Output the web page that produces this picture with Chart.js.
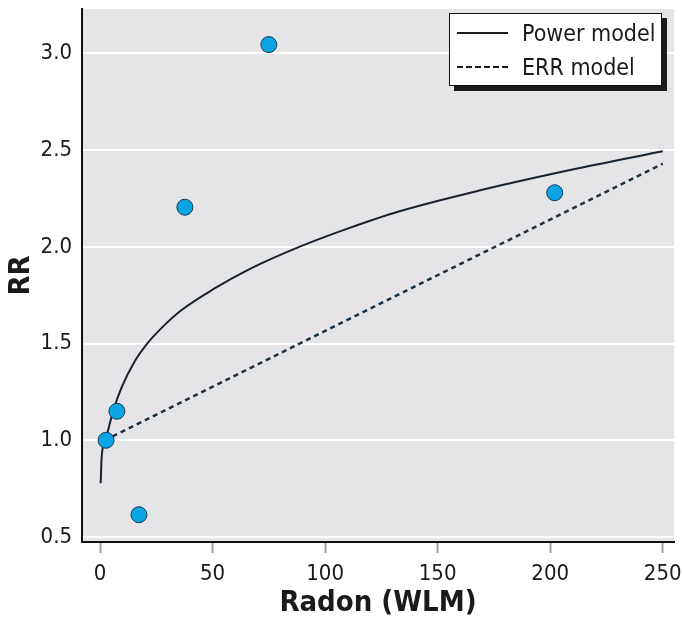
<!DOCTYPE html>
<html>
<head>
<meta charset="utf-8">
<script src="https://cdn.jsdelivr.net/npm/chart.js@4/dist/chart.umd.min.js"></script>
<style>
  html, body { margin: 0; padding: 0; background: #ffffff; }
  #wrap { position: relative; width: 683px; height: 625px; }
  #legend {
    position: absolute; left: 449px; top: 13px; width: 211px; height: 71px;
    background: #ffffff; border: 1px solid #111; box-shadow: 5px 5px 0 #1a1a1a;
    font-family: "Liberation Sans Narrow", "DejaVu Sans Condensed", "Roboto Condensed", sans-serif;
    font-size: 23px; color: #1a1a1a;
  }
  .row { position: absolute; left: 7px; height: 30px; display: flex; align-items: center; }
  .sample { width: 51px; height: 0; margin-right: 14px; }
  .solid { border-top: 2px solid #1a1a1a; }
  .dotted { border-top: 2px dashed #1a1a1a; }
</style>
</head>
<body>
<div id="wrap">
  <canvas id="c" width="683" height="625"></canvas>
  <div id="legend">
    <div class="row" style="top:4px"><div class="sample solid"></div><span>Power model</span></div>
    <div class="row" style="top:38px"><div class="sample dotted"></div><span>ERR model</span></div>
  </div>
</div>
<script>
// Observed data points (Radon WLM, RR)
const obsX = [2.7, 7.5, 17.3, 37.7, 75, 202];
const obsY = [1.0, 1.15, 0.615, 2.205, 3.046, 2.28];

// Power model curve
const powerX = [0.3, 0.75, 2.5, 4, 5.9, 9.6, 15.5, 20.6, 27.3, 36.1, 50.9, 66.4, 88.5, 110.6, 132.7, 168, 212, 250];
const powerY = [0.778, 0.915, 1.003, 1.07, 1.154, 1.273, 1.41, 1.495, 1.58, 1.672, 1.785, 1.885, 2.0, 2.097, 2.183, 2.29, 2.405, 2.494];

// ERR model line
const errX = [2, 250];
const errY = [1.0, 2.43];

const xTicks = [0, 50, 100, 150, 200, 250];
const yTicks = [0.5, 1.0, 1.5, 2.0, 2.5, 3.0];

const FONT = '"Liberation Sans Narrow", "DejaVu Sans Condensed", "Roboto Condensed", sans-serif';

const toPts = (xs, ys) => xs.map((x, i) => ({ x: x, y: ys[i] }));

const bgPlugin = {
  id: 'plotBg',
  beforeDraw(chart) {
    const a = chart.chartArea, ctx = chart.ctx;
    ctx.save();
    ctx.fillStyle = '#e5e5e7';
    ctx.fillRect(a.left, a.top, a.right - a.left, a.bottom - a.top);
    ctx.restore();
  }
};

new Chart(document.getElementById('c'), {
  type: 'scatter',
  data: {
    datasets: [
      {
        label: 'Observed',
        data: toPts(obsX, obsY),
        pointRadius: 8,
        pointHoverRadius: 8,
        backgroundColor: '#0ba4e4',
        borderColor: '#1d3b52',
        borderWidth: 1,
        showLine: false
      },
      {
        type: 'line',
        label: 'Power model',
        data: toPts(powerX, powerY),
        borderColor: '#17222e',
        borderWidth: 2,
        pointRadius: 0,
        fill: false,
        cubicInterpolationMode: 'monotone'
      },
      {
        type: 'line',
        label: 'ERR model',
        data: toPts(errX, errY),
        borderColor: '#1c3245',
        borderWidth: 2.5,
        borderDash: [5, 4],
        pointRadius: 0,
        fill: false
      }
    ]
  },
  options: {
    responsive: false,
    animation: false,
    layout: { padding: { top: 5, right: 7, left: 0, bottom: 0 } },
    plugins: { legend: { display: false }, tooltip: { enabled: false } },
    scales: {
      x: {
        type: 'linear',
        min: -8,
        max: 255,
        afterBuildTicks(s) { s.ticks = xTicks.map(v => ({ value: v })); },
        afterFit(s) { s.height = 83; s.paddingLeft = 0; s.paddingRight = 0; },
        grid: {
          display: true,
          drawOnChartArea: false,
          drawTicks: true,
          tickLength: 11,
          tickWidth: 2,
          tickColor: '#a0a0a0'
        },
        border: { display: true, color: '#111111', width: 2 },
        ticks: {
          padding: 8,
          color: '#1a1a1a',
          font: { family: FONT, size: 22 },
          callback: v => String(v)
        },
        title: {
          display: true,
          text: 'Radon (WLM)',
          color: '#1a1a1a',
          font: { family: FONT, size: 29, weight: 'bold' },
          padding: { top: 0, bottom: 4 }
        }
      },
      y: {
        type: 'linear',
        min: 0.474,
        max: 3.23,
        afterBuildTicks(s) { s.ticks = yTicks.map(v => ({ value: v })); },
        afterFit(s) { s.width = 82; s.paddingTop = 0; s.paddingBottom = 0; },
        grid: {
          color: '#ffffff',
          lineWidth: 2,
          drawTicks: false
        },
        border: { display: true, color: '#111111', width: 2 },
        ticks: {
          padding: 10,
          color: '#1a1a1a',
          font: { family: FONT, size: 22 },
          callback: v => v.toFixed(1)
        },
        title: {
          display: true,
          text: 'RR',
          color: '#1a1a1a',
          font: { family: FONT, size: 29, weight: 'bold' },
          padding: { top: 4, bottom: 0 }
        }
      }
    }
  },
  plugins: [bgPlugin]
});
</script>
</body>
</html>
